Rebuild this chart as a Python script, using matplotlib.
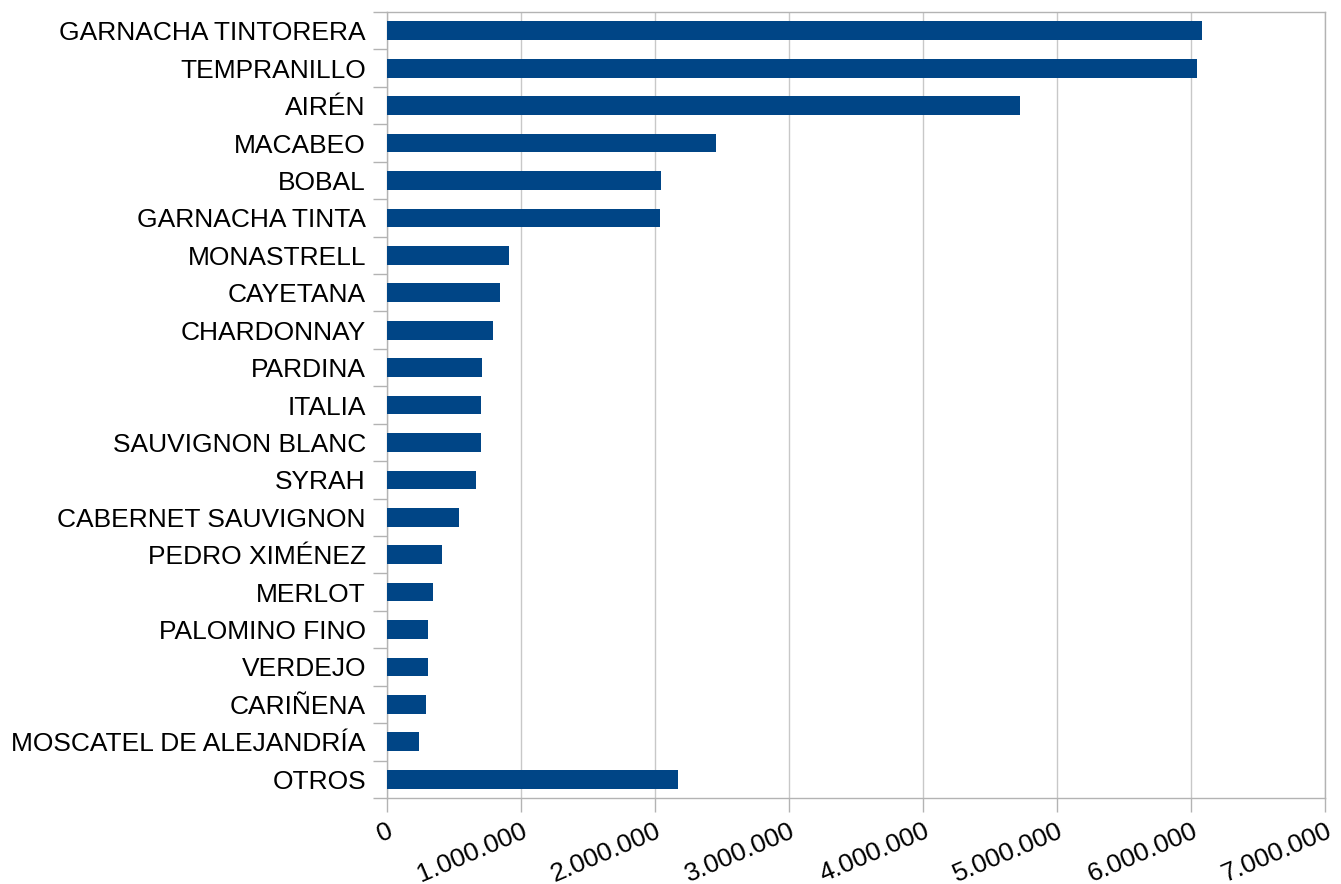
import matplotlib.pyplot as plt
from matplotlib.ticker import FuncFormatter, FixedLocator
import numpy as np

# grape varieties and values
varieties = [
    "GARNACHA TINTORERA", "TEMPRANILLO", "AIRÉN", "MACABEO", "BOBAL",
    "GARNACHA TINTA", "MONASTRELL", "CAYETANA", "CHARDONNAY", "PARDINA",
    "ITALIA", "SAUVIGNON BLANC", "SYRAH", "CABERNET SAUVIGNON", "PEDRO XIMÉNEZ",
    "MERLOT", "PALOMINO FINO", "VERDEJO", "CARIÑENA", "MOSCATEL DE ALEJANDRÍA",
    "OTROS",
]
values = [
    6080000, 6040000, 4720000, 2457000, 2046000,
    2038000, 910000, 843000, 793000, 711000,
    703000, 703000, 666000, 539000, 412000,
    345000, 308000, 308000, 293000, 241000,
    2172000,
]
x_ticks = [0, 1000000, 2000000, 3000000, 4000000, 5000000, 6000000, 7000000]

plt.rcParams['font.family'] = ['Liberation Sans', 'DejaVu Sans']

fig = plt.figure(figsize=(13.41, 8.84), dpi=100)
ax = fig.add_axes([0.2884, 0.0973, 0.7, 0.8891])

pos = np.arange(len(varieties))
ax.barh(pos, values, height=0.5, color='#004586', zorder=3)

ax.set_xlim(0, 7000000)
ax.set_ylim(len(varieties) - 0.5, -0.5)

# vertical grid lines
ax.xaxis.set_major_locator(FixedLocator(x_ticks))
ax.xaxis.set_major_formatter(FuncFormatter(lambda v, p: f"{int(v):,}".replace(',', '.')))
ax.grid(axis='x', color='#c8c8c8', linewidth=1, zorder=0)

# category ticks sit between bars, labels at bar centres
ax.yaxis.set_major_locator(FixedLocator(np.arange(len(varieties) + 1) - 0.5))
ax.yaxis.set_major_formatter(FuncFormatter(lambda v, p: ''))
ax.yaxis.set_minor_locator(FixedLocator(pos))
ax.set_yticklabels(varieties, minor=True)
ax.tick_params(axis='y', which='minor', length=0, pad=15, labelsize=19, labelcolor='black')
ax.tick_params(axis='y', which='major', length=10, color='#b3b3b3', width=1)
ax.tick_params(axis='x', length=10, color='#b3b3b3', width=1, labelsize=19, pad=5)

for lbl in ax.get_xticklabels():
    lbl.set_rotation(23)
    lbl.set_ha('right')
    lbl.set_rotation_mode('anchor')

for s in ax.spines.values():
    s.set_color('#b3b3b3')
    s.set_linewidth(1)

plt.savefig('out.png', dpi=100)
